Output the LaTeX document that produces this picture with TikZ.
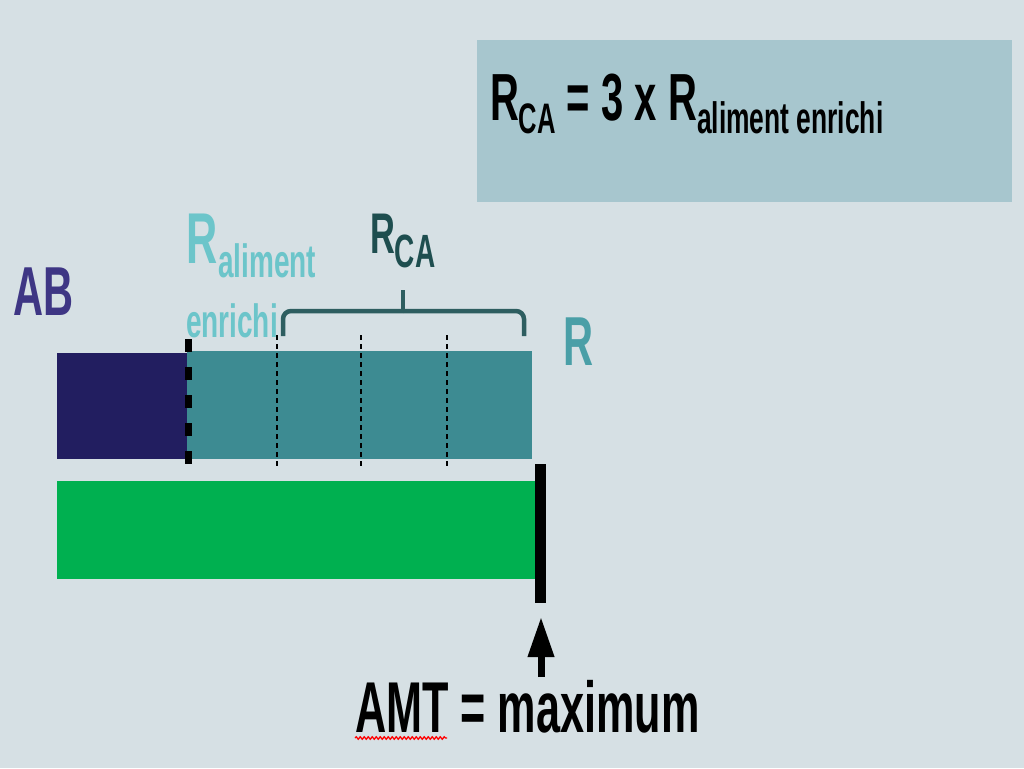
\documentclass[tikz,border=0pt]{standalone}
\usepackage{fontspec}
\newfontfamily\nar[FakeStretch=0.6]{Liberation Sans}
\usetikzlibrary{arrows.meta,decorations.pathmorphing}
\definecolor{bgc}{HTML}{D6E0E4}
\definecolor{boxc}{HTML}{A7C6CE}
\definecolor{navyc}{HTML}{221E60}
\definecolor{tealc}{HTML}{3D8B92}
\definecolor{greenc}{HTML}{00B050}
\definecolor{abc}{HTML}{3E3684}
\definecolor{rrc}{HTML}{4A9FA7}
\definecolor{ralc}{HTML}{6CC5CA}
\definecolor{rcac}{HTML}{1E4E4F}
\definecolor{bracec}{HTML}{2E5E60}
\newcommand\fs[1]{\fontsize{#1}{#1}\selectfont}
\newcommand\lowsub[3]{\raisebox{-#2}{\fs{#1}#3}}
\tikzset{
  txt/.style={inner sep=0pt, outer sep=0pt, anchor=base west, font=\nar\bfseries},
  bar/.style={draw=none},
}
\begin{document}
\begin{tikzpicture}[x=0.75pt,y=-0.75pt]
\fill[bgc] (0,0) rectangle (1024,768);
\useasboundingbox (0,0) rectangle (1024,768);
% formula box
\node[fill=boxc, minimum width=535*0.75pt, minimum height=162*0.75pt, anchor=north west, inner sep=0pt] (box) at (477,40) {};
\node[txt, font=\nar\bfseries\fs{50}] (formula) at (490,120) {R\lowsub{32}{10pt}{CA} = 3 x R\lowsub{33}{10pt}{aliment enrichi}};
% bars
\node[bar, fill=navyc, anchor=north west, minimum width=130*0.75pt, minimum height=106*0.75pt, inner sep=0pt] (ab) at (57,353) {};
\node[bar, fill=tealc, anchor=north west, minimum width=345*0.75pt, minimum height=108*0.75pt, inner sep=0pt] (r) at (187,351) {};
\node[bar, fill=greenc, anchor=north west, minimum width=479*0.75pt, minimum height=98*0.75pt, inner sep=0pt] (amtbar) at (57,481) {};
% dashed separators
\coordinate (d0t) at (188,339); \coordinate (d0b) at (188,466);
\draw[line width=7*0.75pt, dash pattern=on 13*0.75pt off 15*0.75pt] (d0t) -- (d0b);
\foreach \xx in {277,361,447}{
  \draw[line width=2.6*0.75pt, dash pattern=on 5*0.75pt off 4*0.75pt] (\xx,335) -- (\xx,467);
}
% max bar
\coordinate (mt) at (540.5,464); \coordinate (mb) at (540.5,603);
\draw[line width=11*0.75pt] (mt) -- (mb);
% labels
\node[txt, text=abc, font=\nar\bfseries\fs{52}] (labAB) at (13,315) {AB};
\node[txt, text=rrc, font=\nar\bfseries\fs{52}] (labR) at (563,365) {R};
\node[txt, text=ralc, font=\nar\bfseries\fs{54}] (labRal) at (186,263) {R};
\node[txt, text=ralc, font=\nar\bfseries\fs{35}] (labal) at (218,277) {aliment};
\node[txt, text=ralc, font=\nar\bfseries\fs{35}] (laben) at (186,337) {enrichi};
\node[txt, text=rcac, font=\nar\bfseries\fs{43}] (labRCA) at (370,253) {R\lowsub{35}{11pt}{CA}};
% brace
\draw[bracec, line width=4.5*0.75pt, rounded corners=8*0.75pt] (283,336) |- (403,311);
\draw[bracec, line width=4.5*0.75pt, rounded corners=8*0.75pt] (403,311) -| (524,336);
\draw[bracec, line width=4.5*0.75pt] (403,311) -- (403,290);
% AMT
\node[txt, font=\nar\bfseries\fs{54}] (amt) at (355,732) {AMT = maximum};
\coordinate (at) at (541,617); \coordinate (ab0) at (541,677);
\draw[line width=7*0.75pt, -{Triangle[width=25*0.75pt, length=40*0.75pt]}] (ab0) -- (at);
\draw[red, line width=1pt, decorate, decoration={snake, amplitude=1.2*0.75pt, segment length=4*0.75pt}] (355,738) -- (447,738);
\end{tikzpicture}
\end{document}
